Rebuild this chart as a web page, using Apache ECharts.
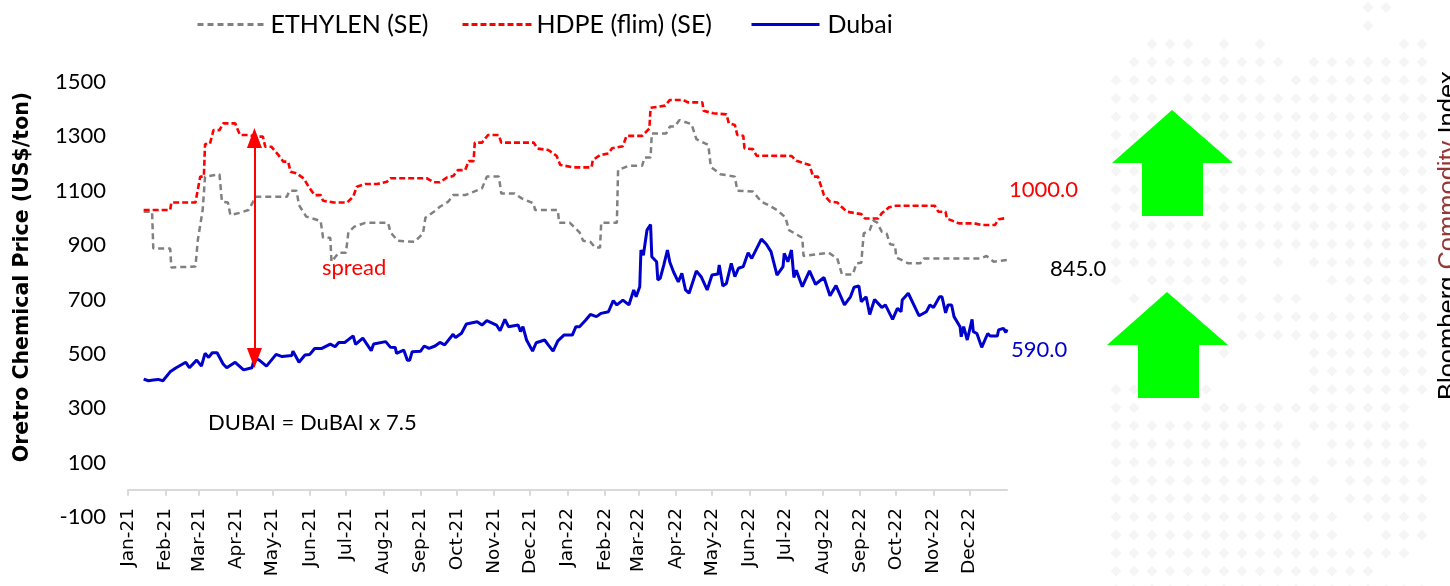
<!DOCTYPE html>
<html><head><meta charset="utf-8">
<style>html,body{margin:0;padding:0;background:#fff}#c{width:1450px;height:586px}</style>
<script src="https://cdn.jsdelivr.net/npm/echarts@6/dist/echarts.min.js"></script>
</head><body><div id="c"></div>
<script>
// Day offsets count from 2021-01-01
var tickDays=[0,31,59,90,120,151,181,212,243,273,304,334,365,396,424,455,485,516,546,577,608,638,669,699];
var tickLabels=['Jan-21','Feb-21','Mar-21','Apr-21','May-21','Jun-21','Jul-21','Aug-21','Sep-21','Oct-21','Nov-21','Dec-21','Jan-22','Feb-22','Mar-22','Apr-22','May-22','Jun-22','Jul-22','Aug-22','Sep-22','Oct-22','Nov-22','Dec-22'];
var hdpeDays=[13,35,36,56,60,63,64,68,71,76,79,89,93,100,107,112,114,119,125,129,133,135,140,146,150,155,160,162,171,182,187,190,197,207,215,218,248,254,259,265,270,274,280,283,287,288,294,299,308,310,337,340,349,356,359,370,385,386,392,399,402,411,414,427,433,434,446,450,461,465,477,478,486,497,499,504,506,511,512,519,522,551,555,566,569,573,578,583,589,593,597,609,612,623,626,632,638,670,673,679,680,690,703,709,720,723,730];
var hdpeValues=[1029,1029,1057,1057,1152,1152,1272,1272,1323,1323,1348,1348,1305,1305,1299,1299,1262,1262,1231,1207,1207,1170,1164,1145,1115,1084,1084,1063,1057,1057,1078,1115,1125,1125,1133,1146,1146,1131,1131,1149,1154,1176,1176,1209,1209,1277,1277,1305,1305,1277,1277,1255,1250,1228,1195,1186,1186,1213,1231,1237,1256,1264,1302,1302,1329,1405,1413,1434,1434,1425,1425,1394,1385,1381,1348,1342,1305,1302,1256,1253,1229,1228,1210,1195,1152,1152,1084,1060,1057,1039,1023,1014,998,998,1017,1039,1045,1045,1023,1023,998,980,980,974,974,995,1000];
var ethyleneDays=[13,20,21,35,36,56,58,62,64,76,78,83,85,93,100,104,106,132,134,140,142,148,160,162,168,169,175,181,183,188,197,216,218,224,238,245,247,254,259,266,270,280,294,298,308,310,321,327,337,338,357,358,367,375,378,384,388,392,393,406,407,416,427,429,434,435,447,450,454,458,468,472,482,484,492,504,506,519,526,532,539,546,549,560,561,582,589,593,602,605,609,611,616,619,622,626,630,633,637,638,648,658,661,708,713,719,730];
var ethyleneValues=[1023,1023,888,888,818,821,919,1029,1152,1160,1060,1057,1011,1019,1029,1060,1078,1078,1100,1100,1047,1005,989,927,927,839,872,872,947,968,982,982,947,916,912,943,1001,1023,1041,1060,1084,1084,1109,1152,1152,1090,1090,1072,1053,1029,1029,982,982,947,916,912,891,891,982,982,1176,1192,1192,1222,1222,1311,1311,1336,1336,1360,1345,1290,1268,1188,1161,1152,1100,1097,1060,1047,1029,1002,955,927,860,872,851,792,792,833,835,943,955,990,984,949,943,903,900,855,833,833,851,851,860,839,845];
var dubaiDays=[13,17,21,25,29,35,40,48,51,57,61,64,67,70,74,79,82,89,96,103,105,109,115,123,128,136,137,142,147,151,155,161,168,172,175,180,187,189,195,202,204,214,218,222,223,229,232,234,236,243,246,250,255,259,263,270,272,277,281,290,294,298,306,309,313,316,324,326,328,331,336,339,346,349,353,357,362,369,372,375,380,384,389,393,399,403,406,411,416,420,422,425,426,428,431,434,435,439,440,442,445,448,450,453,457,460,463,466,472,476,481,485,490,491,494,497,501,504,507,511,515,518,526,530,534,539,544,545,548,551,553,555,560,566,571,578,583,588,595,600,603,607,609,613,616,620,626,629,635,639,642,643,648,657,663,666,669,674,676,679,681,684,686,691,692,694,697,701,702,705,709,714,716,722,723,727,729,730];
var dubaiValues=[407,401,404,406,401,434,449,469,449,477,455,502,487,504,504,463,449,469,441,449,484,477,455,498,490,494,510,469,496,498,520,520,536,526,542,542,566,535,558,512,536,545,524,523,502,514,477,477,508,510,529,520,529,542,533,572,560,576,610,618,606,622,606,585,627,600,606,582,600,551,510,541,551,533,510,548,569,569,600,600,624,645,637,649,655,696,680,698,680,735,710,747,882,863,955,976,857,839,772,778,827,882,837,802,765,796,735,723,805,784,735,790,794,827,750,759,833,784,815,821,872,851,922,904,876,790,821,870,839,882,781,808,747,805,756,781,714,751,680,710,745,750,692,710,645,700,671,680,627,667,655,698,723,640,655,680,671,710,710,651,680,680,637,600,563,600,551,627,582,575,524,575,566,566,588,594,579,590];
// Background dot pattern, one string per row, '#' = dot
var dotRows=[
'..............##..','..............#...','..###.#.#.......##','.#########.#######','#########.########','###.##############',
'##################','##################','##################','##################','##################','##################',
'##################','##################','########.#.#######','#.######....######','.#..####.##..#####','..###..###########',
'.......###########','......#....#######','...........#######','##...#.....#######','##...############.','##########.######.',
'###########.######','###########.######','############.#####','############.#####','#############.####','#############..###',
'#################.','###############...','##################'];

function pairs(d,v){return d.map(function(x,i){return [x,v[i]];});}
var categories=[];for(var i=0;i<=730;i++)categories.push(String(i));
var dots=[];dotRows.forEach(function(r,y){for(var x=0;x<r.length;x++)if(r[x]==='#')dots.push([x,y]);});
function isTick(i){return tickDays.indexOf(i)>=0;}
var NARROW='Lato';
function leg(name,left,w,gap){return {data:[name],left:left,top:12,padding:0,itemWidth:w,itemHeight:14,itemGap:0,
  itemStyle:{opacity:0},lineStyle:{width:3},
  textStyle:{fontFamily:NARROW,fontSize:25,color:'#000',padding:[0,0,0,gap]},selectedMode:false};}
var c=echarts.init(document.getElementById('c'),null,{renderer:'canvas'});
function note(x,y,t,col,size){return {type:'text',x:x,y:y,z:20,style:{text:t,fill:col,font:(size||22)+'px '+NARROW}};}
function arrow(p){return {type:'polygon',z:10,shape:{points:p},style:{fill:'#00FF00'}};}
c.setOption({
  animation:false,backgroundColor:'#fff',
  legend:[leg('ETHYLEN (SE)',196,66,2),leg('HDPE (flim) (SE)',461,69,0),leg('Dubai',750,68,3)],
  grid:[{left:128,top:82,width:879,height:435,outerBoundsMode:'none'},{left:1116,top:7.5,width:306,height:582,outerBoundsMode:'none'}],
  xAxis:[{type:'category',data:categories,boundaryGap:false,
    axisLine:{onZero:true,lineStyle:{color:'#d9d9d9',width:2}},
    axisTick:{interval:function(i){return isTick(i);},length:6,lineStyle:{color:'#d9d9d9',width:2}},
    axisLabel:{interval:function(i){return isTick(i);},rotate:90,margin:-9,fontFamily:'"DejaVu Sans"',fontSize:18.5,color:'#000',padding:[4,0,0,0],
      formatter:function(v){return tickLabels[tickDays.indexOf(+v)];}}},
    {type:'value',gridIndex:1,min:0,max:17,show:false}],
  yAxis:[{type:'value',min:-100,max:1500,interval:200,axisLine:{show:false},axisTick:{show:false},splitLine:{show:false},
    axisLabel:{margin:22,fontFamily:NARROW,fontSize:22,color:'#000',formatter:function(v){return String(v);}},
    name:'Oretro Chemical Price (US$/ton)',nameLocation:'middle',nameRotate:90,nameGap:95,
    nameTextStyle:{fontFamily:'"DejaVu Sans"',fontSize:20.5,fontWeight:'bold',color:'#000',padding:[0,0,0,45]}},
    {type:'value',gridIndex:1,min:0,max:32,inverse:true,show:false}],
  series:[
    {name:'dots',type:'scatter',xAxisIndex:1,yAxisIndex:1,data:dots,symbol:'diamond',symbolSize:11,silent:true,z:0,
      itemStyle:{color:'#f2f2f2'}},
    {name:'ETHYLEN (SE)',type:'line',data:pairs(ethyleneDays,ethyleneValues),symbol:'none',z:3,
      lineStyle:{color:'#808080',width:2.5,type:[6,4]},itemStyle:{color:'#808080'}},
    {name:'HDPE (flim) (SE)',type:'line',data:pairs(hdpeDays,hdpeValues),symbol:'none',z:3,
      lineStyle:{color:'#FF0000',width:2.6,type:[6,3]},itemStyle:{color:'#FF0000'},
      markLine:{silent:true,symbol:['triangle','triangle'],symbolSize:[15,20],label:{show:false},
        lineStyle:{color:'#FF0000',width:2,type:'solid'},
        data:[[{coord:[105,1294]},{coord:[105,485]}]]}},
    {name:'Dubai',type:'line',data:pairs(dubaiDays,dubaiValues),symbol:'none',z:4,
      lineStyle:{color:'#0000CC',width:3},itemStyle:{color:'#0000CC'}}
  ],
  graphic:[
    note(322,257,'spread','#FF0000',22),
    note(208,412,'DUBAI = DuBAI x 7.5','#000',22),
    note(1009,179,'1000.0','#FF0000',22),
    note(1050,258,'845.0','#000',22),
    note(1011,339,'590.0','#0000CC',22),
    arrow([[1172,110],[1233,163],[1203,163],[1203,216],[1142,216],[1142,163],[1112,163]]),
    arrow([[1167,292],[1228,345],[1199,345],[1199,398],[1138,398],[1138,345],[1107,345]]),
    {type:'text',x:1436,y:400,rotation:Math.PI/2,z:20,style:{
      text:'{a|Bloomberg }{b|Commodity }{a|Index}',
      rich:{a:{fill:'#000',font:'25.5px "Liberation Sans"'},b:{fill:'#953735',font:'25.5px "Liberation Sans"'}}}}
  ]
});
</script></body></html>
